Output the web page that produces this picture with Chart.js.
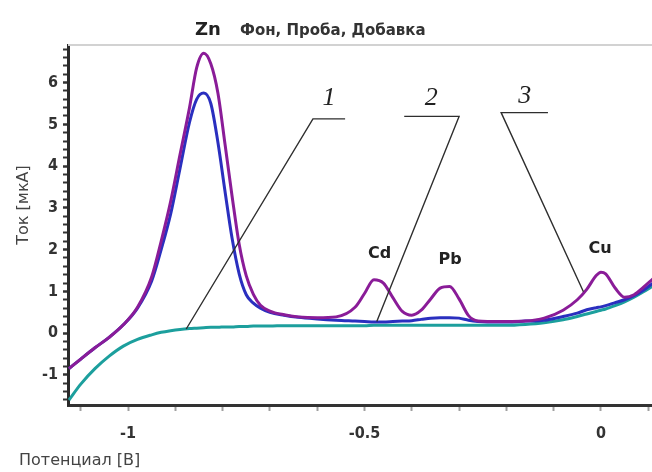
<!DOCTYPE html>
<html lang="ru">
<head>
<meta charset="UTF-8">
<title>Zn - Фон, Проба, Добавка</title>
<script src="https://cdn.jsdelivr.net/npm/chart.js@4.4.0/dist/chart.umd.min.js"></script>
<style>
  body { margin: 0; background: #fff; }
  #chart { display: block; }
</style>
</head>
<body>
<canvas id="chart" width="652" height="472"></canvas>
<script>
// potential, V
const potential = [-1.125, -1.10, -1.07, -1.04, -1.01, -0.98, -0.95, -0.93, -0.91, -0.89,
  -0.87, -0.855, -0.84, -0.825, -0.81, -0.795, -0.78, -0.765, -0.75, -0.735,
  -0.72, -0.70, -0.67, -0.64, -0.60, -0.56, -0.52, -0.50, -0.48, -0.46,
  -0.44, -0.42, -0.40, -0.38, -0.36, -0.34, -0.32, -0.30, -0.28, -0.26,
  -0.24, -0.20, -0.16, -0.12, -0.08, -0.05, -0.03, -0.01, 0.00, 0.01,
  0.03, 0.05, 0.07, 0.09, 0.11];

// current, uA
const dobavka = [-0.85, -0.62, -0.35, -0.10, 0.20, 0.62, 1.35, 2.20, 3.15, 4.28,
  5.40, 6.35, 6.70, 6.45, 5.75, 4.53, 3.28, 2.13, 1.37, 0.93,
  0.67, 0.53, 0.44, 0.39, 0.37, 0.39, 0.62, 0.95, 1.28, 1.20,
  0.85, 0.52, 0.43, 0.55, 0.82, 1.08, 1.12, 0.82, 0.42, 0.29,
  0.28, 0.28, 0.29, 0.36, 0.55, 0.80, 1.05, 1.38, 1.46, 1.42,
  1.08, 0.86, 0.92, 1.10, 1.30];

const proba = [-0.85, -0.62, -0.35, -0.10, 0.20, 0.60, 1.25, 2.00, 2.85, 3.95,
  5.05, 5.60, 5.75, 5.50, 4.57, 3.40, 2.27, 1.42, 0.92, 0.72,
  0.60, 0.50, 0.43, 0.38, 0.34, 0.31, 0.29, 0.28, 0.27, 0.27,
  0.28, 0.29, 0.30, 0.33, 0.36, 0.37, 0.37, 0.36, 0.31, 0.28,
  0.27, 0.27, 0.29, 0.31, 0.40, 0.48, 0.56, 0.61, 0.63, 0.66,
  0.73, 0.80, 0.90, 1.03, 1.20];

const fon = [-1.60, -1.22, -0.85, -0.55, -0.31, -0.15, -0.04, 0.02, 0.06, 0.09,
  0.11, 0.12, 0.13, 0.14, 0.14, 0.15, 0.15, 0.16, 0.16, 0.17,
  0.17, 0.17, 0.18, 0.18, 0.18, 0.18, 0.18, 0.18, 0.19, 0.19,
  0.19, 0.19, 0.19, 0.19, 0.19, 0.19, 0.19, 0.19, 0.19, 0.19,
  0.19, 0.19, 0.21, 0.25, 0.32, 0.40, 0.46, 0.52, 0.55, 0.58,
  0.66, 0.75, 0.86, 0.99, 1.13];

// peak names
const peakNames = ['Cd', 'Pb', 'Cu'];
const peakX = [-0.468, -0.319, -0.002];
const peakY = [1.91, 1.75, 2.03];

// curve numbers with leader lines
const curveNumbers = ['1', '2', '3'];
const numberX = [-0.575, -0.359, -0.161];
const numberY = [5.62, 5.62, 5.68];
const shelfEnd = [-0.541, -0.416, -0.112];
const shelfCorner = [-0.609, -0.300, -0.211];
const shelfY = [5.13, 5.19, 5.28];
const pointerX = [-0.877, -0.474, -0.037];
const pointerY = [0.10, 0.28, 0.99];

const toPoints = ys => ys.map((v, i) => ({x: potential[i], y: v}));

const notes = {
  id: 'notes',
  afterDatasetsDraw(chart) {
    const {ctx, chartArea, scales: {x, y}} = chart;
    ctx.save();

    // light top border
    ctx.strokeStyle = '#d2d2d2';
    ctx.lineWidth = 2;
    ctx.beginPath();
    ctx.moveTo(chartArea.left, chartArea.top);
    ctx.lineTo(chartArea.right, chartArea.top);
    ctx.stroke();

    // leader lines
    ctx.strokeStyle = '#2e2e2e';
    ctx.lineWidth = 1.4;
    for (let i = 0; i < curveNumbers.length; i++) {
      ctx.beginPath();
      ctx.moveTo(x.getPixelForValue(shelfEnd[i]), y.getPixelForValue(shelfY[i]));
      ctx.lineTo(x.getPixelForValue(shelfCorner[i]), y.getPixelForValue(shelfY[i]));
      ctx.lineTo(x.getPixelForValue(pointerX[i]), y.getPixelForValue(pointerY[i]));
      ctx.stroke();
    }

    ctx.fillStyle = '#222';
    ctx.textAlign = 'center';
    ctx.textBaseline = 'middle';
    ctx.font = 'italic 26px "Liberation Serif"';
    curveNumbers.forEach((t, i) => {
      ctx.fillText(t, x.getPixelForValue(numberX[i]), y.getPixelForValue(numberY[i]));
    });

    ctx.font = 'bold 16px "DejaVu Sans"';
    peakNames.forEach((t, i) => {
      ctx.fillText(t, x.getPixelForValue(peakX[i]), y.getPixelForValue(peakY[i]));
    });
    ctx.restore();
  },
  afterDraw(chart) {
    const {ctx} = chart;
    ctx.save();
    ctx.fillStyle = '#222';
    ctx.textBaseline = 'alphabetic';
    ctx.textAlign = 'left';
    ctx.font = 'bold 18px "DejaVu Sans"';
    ctx.fillText('Zn', 195, 35);
    ctx.font = 'bold 15px "DejaVu Sans"';
    ctx.fillStyle = '#333';
    ctx.fillText('Фон, Проба, Добавка', 240, 35);

    ctx.font = '16px "DejaVu Sans"';
    ctx.fillStyle = '#444';
    ctx.fillText('Потенциал [В]', 19, 465);

    ctx.translate(28, 205);
    ctx.rotate(-Math.PI / 2);
    ctx.textAlign = 'center';
    ctx.fillText('Ток [мкА]', 0, 0);
    ctx.restore();
  }
};

new Chart(document.getElementById('chart'), {
  type: 'line',
  data: {
    datasets: [
      {label: 'Добавка', data: toPoints(dobavka), borderColor: '#8a1c98', borderWidth: 3},
      {label: 'Проба', data: toPoints(proba), borderColor: '#2a2fbf', borderWidth: 3},
      {label: 'Фон', data: toPoints(fon), borderColor: '#1c9f9d', borderWidth: 3}
    ]
  },
  options: {
    responsive: false,
    animation: false,
    parsing: false,
    layout: {padding: {top: 45, right: 0, left: 0, bottom: 0}},
    elements: {
      point: {radius: 0},
      line: {tension: 0.4, cubicInterpolationMode: 'monotone'}
    },
    plugins: {legend: {display: false}, tooltip: {enabled: false}},
    scales: {
      x: {
        type: 'linear',
        min: -1.127, max: 0.108,
        afterFit(scale) { scale.height = 67; scale.paddingLeft = 0; scale.paddingRight = 0; },
        border: {display: true, color: '#333', width: 3},
        grid: {drawOnChartArea: false, tickLength: 6, tickColor: '#a0a0a0', tickWidth: 2},
        ticks: {
          stepSize: 0.1, includeBounds: false, autoSkip: false, maxRotation: 0, padding: 13,
          color: '#333', font: {family: '"DejaVu Sans Condensed", "DejaVu Sans"', size: 16, weight: 'bold'},
          callback: v => Math.abs(v * 2 - Math.round(v * 2)) < 1e-9 ? String(Math.round(v * 10) / 10) : ''
        }
      },
      y: {
        min: -1.72, max: 6.9,
        afterFit(scale) { scale.width = 68; scale.paddingTop = 0; scale.paddingBottom = 0; },
        border: {display: true, color: '#2a2a2a', width: 3},
        grid: {
          drawOnChartArea: false, tickLength: 5, tickColor: '#333',
          tickWidth: c => Number.isInteger(c.tick && c.tick.value) ? 2.5 : 2
        },
        ticks: {
          stepSize: 0.2, includeBounds: false, autoSkip: false, padding: 5,
          color: '#333', font: {family: '"DejaVu Sans Condensed", "DejaVu Sans"', size: 16, weight: 'bold'},
          callback: v => Number.isInteger(v) ? String(v) : ''
        }
      }
    }
  },
  plugins: [notes]
});
</script>
</body>
</html>
